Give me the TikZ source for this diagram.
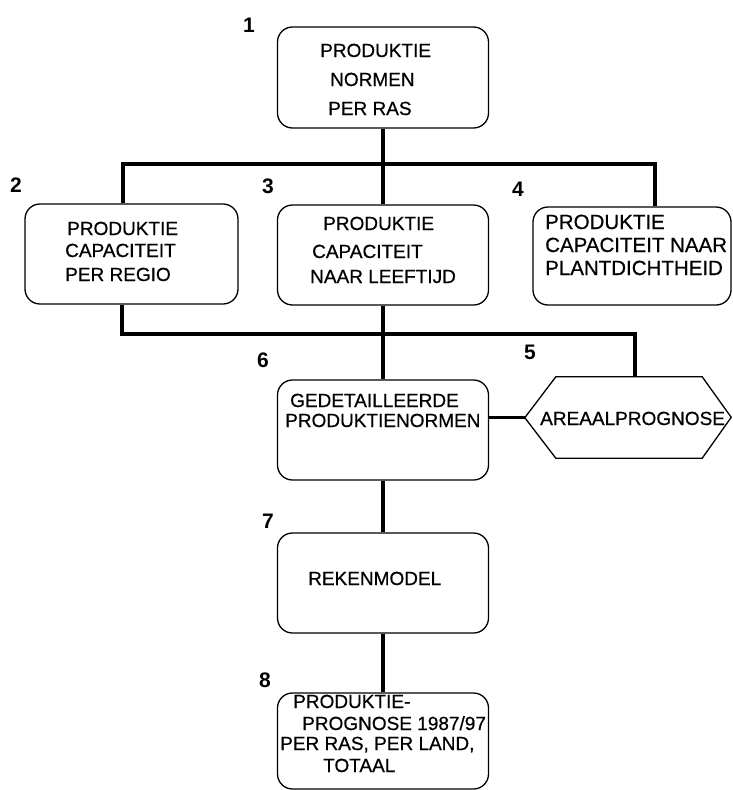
\documentclass[tikz,border=0pt]{standalone}
\usepackage{fontspec}
\setmainfont{Liberation Sans}
\newfontfamily\tfont{Liberation Sans}[FakeBold=0.6]
\begin{document}
\begin{tikzpicture}[x=1pt,y=-1pt,
  box/.style={draw, line width=1.3pt, rounded corners=15pt, inner sep=0pt, minimum width=211pt, minimum height=100pt},
  conn/.style={line width=3.6pt, line join=miter},
  txt/.style={anchor=base west, inner sep=0pt, font=\tfont\fontsize{19}{22}\selectfont},
  txtw/.style={txt, font=\tfont\fontsize{20.5}{22}\selectfont},
  num/.style={inner sep=0pt, font=\bfseries\fontsize{21}{24}\selectfont}]
\useasboundingbox (0,0) rectangle (733,790);

% boxes
\node[box, minimum height=101pt] (n1) at (383,77.5) {};
\node[box, minimum width=213pt] (n2) at (131.5,254) {};
\node[box] (n3) at (383,255) {};
\node[box, minimum width=198pt, minimum height=98pt] (n4) at (632,256) {};
\node[box] (n6) at (383,430) {};
\node[box] (n7) at (383,583) {};
\node[box, minimum height=96pt] (n8) at (383,741) {};
% hexagon
\node[inner sep=0pt, minimum width=146pt, minimum height=81pt] (n5) at (629,417.5) {};
\draw[line width=1.3pt, line join=miter] (n5.north west) -- (n5.north east) -- ++(29,40.5) -- (n5.south east) -- (n5.south west) -- ++(-31,-40.5) -- cycle;
\coordinate (h5w) at (525,417.5);

% connectors
\coordinate (bL) at (123,164);
\coordinate (bR) at (655,164);
\coordinate (cL) at (122,334);
\coordinate (cR) at (635,334);
\draw[conn] (n1.south) -- (n3.north);
\draw[conn] (bL |- n2.north) -- (bL) -- (bR) -- (bR |- n4.north);
\draw[conn] (cL |- n2.south) -- (cL) -- (cR) -- (cR |- n5.north);
\draw[conn] (n3.south) -- (n6.north);
\draw[conn] (n6.east |- h5w) -- (h5w);
\draw[conn] (n6.south) -- (n7.north);
\draw[conn] (n7.south) -- (n8.north);

% numbers
\node[num] (l1) at (249,25) {1};
\node[num] (l2) at (16,185) {2};
\node[num] (l3) at (268,186) {3};
\node[num] (l4) at (518,189) {4};
\node[num] (l5) at (530,352) {5};
\node[num] (l6) at (263,360) {6};
\node[num] (l7) at (268,521) {7};
\node[num] (l8) at (265,680) {8};

% texts
\node[txt] (t1a) at (320,57) {PRODUKTIE};
\node[txt] (t1b) at (330,86) {NORMEN};
\node[txt] (t1c) at (328,115) {PER RAS};
\node[txt] (t2a) at (67,235) {PRODUKTIE};
\node[txt] (t2b) at (65,257) {CAPACITEIT};
\node[txt] (t2c) at (65,281) {PER REGIO};
\node[txt] (t3a) at (323,230) {PRODUKTIE};
\node[txt] (t3b) at (312,258) {CAPACITEIT};
\node[txt] (t3c) at (310,283) {NAAR LEEFTIJD};
\node[txtw] (t4a) at (545,229) {PRODUKTIE};
\node[txtw] (t4b) at (545,252) {CAPACITEIT NAAR};
\node[txtw] (t4c) at (545,275) {PLANTDICHTHEID};
\node[txt] (t5) at (540,425) {AREAALPROGNOSE};
\node[txt] (t6a) at (290,407) {GEDETAILLEERDE};
\node[txt] (t6b) at (285,427) {PRODUKTIENORMEN};
\node[txt] (t7) at (308,585) {REKENMODEL};
\node[txt] (t8a) at (293,708) {PRODUKTIE-};
\node[txt] (t8b) at (302,730) {PROGNOSE 1987/97};
\node[txt] (t8c) at (280,750) {PER RAS, PER LAND,};
\node[txt] (t8d) at (323,772) {TOTAAL};
\end{tikzpicture}
\end{document}
